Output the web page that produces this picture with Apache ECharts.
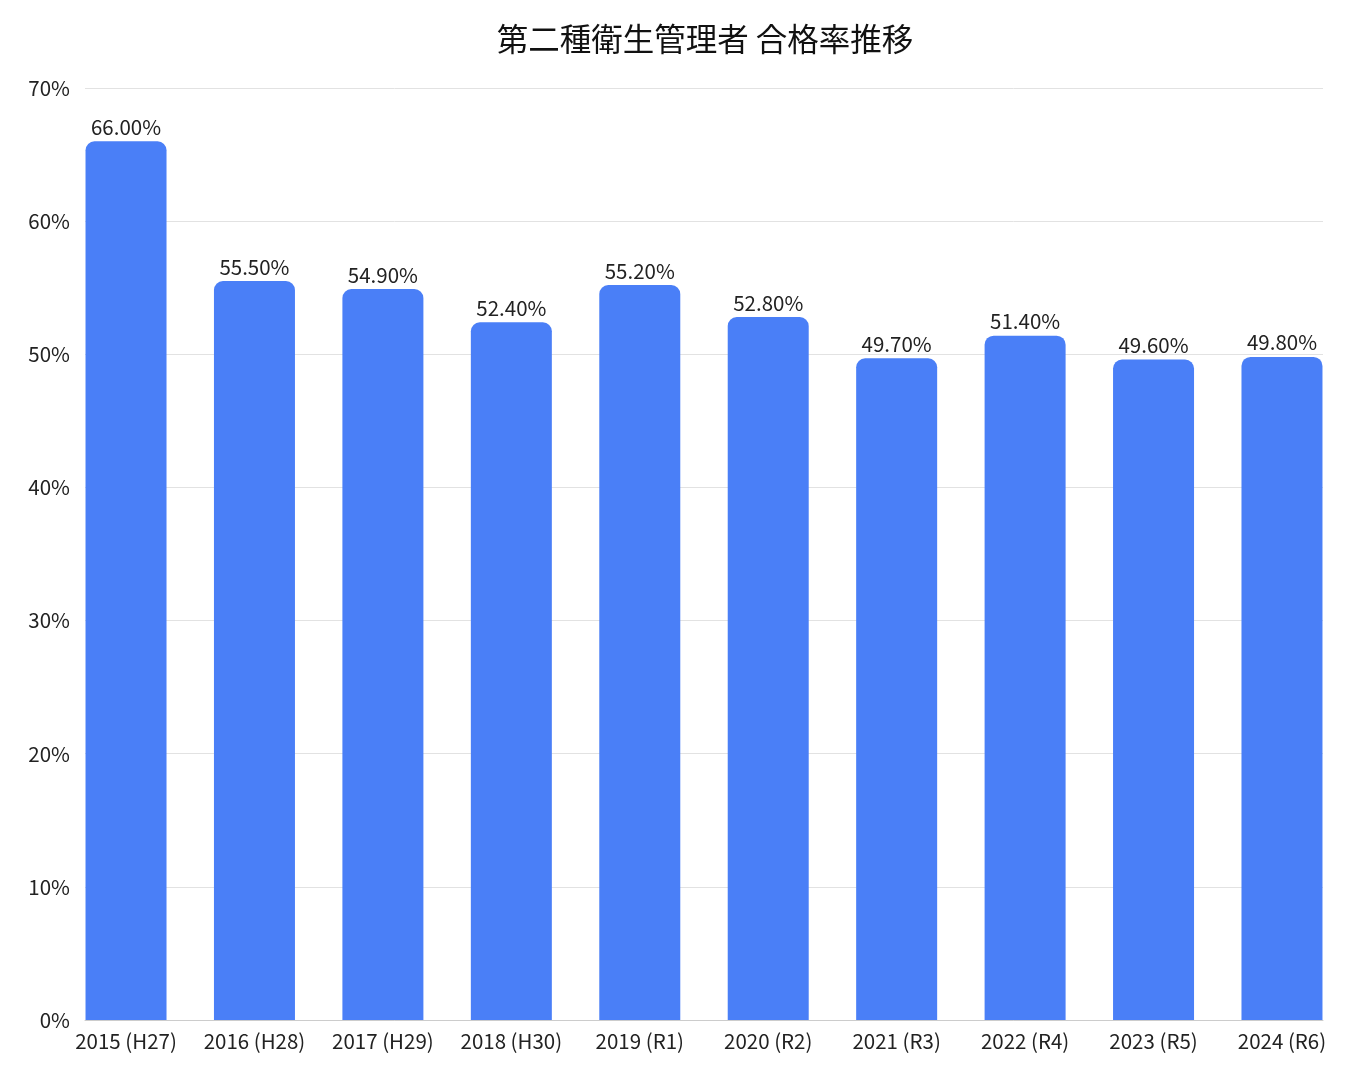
<!DOCTYPE html>
<html><head><meta charset="utf-8">
<script src="https://cdn.jsdelivr.net/npm/echarts@6/dist/echarts.min.js"></script>
<style>html,body{margin:0;padding:0;background:#fff}#c{width:1360px;height:1080px}</style>
</head><body><div id="c"></div>
<script>
const title = '第二種衛生管理者 合格率推移';
const categories = ['2015 (H27)','2016 (H28)','2017 (H29)','2018 (H30)','2019 (R1)','2020 (R2)','2021 (R3)','2022 (R4)','2023 (R5)','2024 (R6)'];
const passRates = [66.0, 55.5, 54.9, 52.4, 55.2, 52.8, 49.7, 51.4, 49.6, 49.8];
const yTicks = [0, 10, 20, 30, 40, 50, 60, 70];

const font = '"Noto Sans CJK JP", "Noto Sans", sans-serif';
const chart = echarts.init(document.getElementById('c'), null, {renderer: 'canvas'});
chart.setOption({
  backgroundColor: '#ffffff',
  animation: false,
  title: {
    text: title, left: 700, textAlign: 'center', top: 18,
    textStyle: {fontFamily: font, fontSize: 31.5, fontWeight: 'normal', color: '#111'}
  },
  grid: [
    {left: 85, right: 37, top: 88, bottom: 60},
    {left: 61.8, right: 13.8, top: 88, bottom: 60}
  ],
  xAxis: [
    {gridIndex: 0, type: 'category', data: categories, show: true,
     axisLine: {show: true, lineStyle: {color: '#cccccc', width: 1}},
     axisTick: {show: false}, axisLabel: {show: false}},
    {gridIndex: 1, type: 'category', data: categories,
     axisLine: {show: false}, axisTick: {show: false},
     axisLabel: {fontFamily: font, fontSize: 20.5, color: '#222', margin: 11, interval: 0}}
  ],
  yAxis: [
    {gridIndex: 0, type: 'value', min: 0, max: 70, interval: 10,
     axisLine: {show: false}, axisTick: {show: false},
     axisLabel: {fontFamily: font, fontSize: 20.5, color: '#222', margin: 15,
       formatter: v => yTicks.includes(v) ? v + '%' : ''},
     splitLine: {lineStyle: {color: '#e2e2e2', width: 1}}},
    {gridIndex: 1, type: 'value', min: 0, max: 70, interval: 10, show: false,
     splitLine: {show: false}}
  ],
  series: [{
    type: 'bar', xAxisIndex: 1, yAxisIndex: 1,
    data: passRates, barWidth: 81,
    itemStyle: {color: '#4a7ff7', borderRadius: [9, 9, 0, 0]},
    label: {show: true, position: 'top', distance: 4,
      fontFamily: font, fontSize: 20.5, color: '#222',
      formatter: p => p.value.toFixed(2) + '%'}
  }]
});
</script></body></html>
